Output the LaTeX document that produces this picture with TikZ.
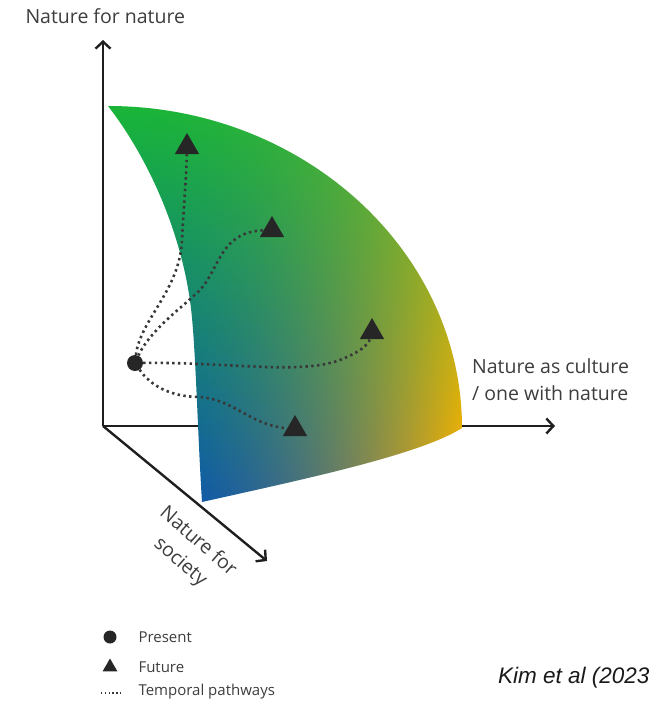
\documentclass[tikz,border=0pt]{standalone}
\usepackage{fontspec}
\setmainfont{Open Sans}
\newfontfamily\citefont{Liberation Sans}
\usepackage{tikz}
\usetikzlibrary{positioning,arrows.meta,shapes.geometric}
\definecolor{axc}{rgb}{0.12,0.12,0.12}
\definecolor{txtc}{rgb}{0.24,0.24,0.24}
\definecolor{dotc}{rgb}{0.22,0.22,0.22}
% green (top) / blue (bottom left) / orange (bottom right)
\pgfdeclarefunctionalshading{surface}{\pgfpointorigin}{\pgfpoint{100bp}{100bp}}{}{%
  25 sub 50 div exch 25 sub 50 div exch
  exch dup mul exch
  2 copy mul
  2 index 1.0 mul 2 index 0.10 mul add 1 index -0.60 mul add 0.0 add
  3 index 0.35 mul 3 index 0.38 mul add 2 index -0.34 mul add 0.33 add
  4 index -0.70 mul 4 index -0.48 mul add 3 index 0.63 mul add 0.70 add
  6 3 roll pop pop pop
}
\tikzset{
  axisline/.style={axc, line width=2.4pt, -{Straight Barb[length=7pt,width=15pt]}},
  pathway/.style={dotc, line width=2.6pt, dash pattern=on 2.4pt off 3.4pt},
  future/.style={regular polygon, regular polygon sides=3, fill=black!85, inner sep=0pt, minimum size=28pt},
  present/.style={circle, fill=black!85, inner sep=0pt, minimum size=16pt},
  lbl/.style={txtc, font=\fontsize{19.5}{27}\selectfont},
  legtext/.style={txtc, font=\fontsize{15}{18}\selectfont, anchor=west}
}

\begin{document}
\begin{tikzpicture}[x=1pt, y=-1pt]
    \useasboundingbox (0,0) rectangle (650,702);
    % axes
    \coordinate (orig) at (103,426);
    \coordinate (ytip) at (103,40);
    \coordinate (xtip) at (555,426);
    \coordinate (ztip) at (267,561);
    \draw[axisline] (orig) -- (ytip);
    \draw[axisline] (orig) -- (xtip);
    \draw[axisline] (orig) -- (ztip);
    \node[lbl, anchor=base west] (ylab) at (22,23) {Nature for nature};
    \node[lbl, anchor=north west, align=left, inner sep=0pt] (xlab) at (472,358) {Nature as culture\\/ one with nature};
    \node[lbl, rotate=-41, align=center] (zlab) at (189,552) {Nature for\\society};
    % surface
    \shade[shading=surface] (108,106) .. controls (303,106) and (462,251) .. (462,428)
        .. controls (420,455) and (300,480) .. (202,502)
        .. controls (198,440) and (196,360) .. (192,318)
        .. controls (185,240) and (150,160) .. (108,106) -- cycle;
    % present and futures
    \node[present] (pres) at (135,363) {};
    \node[future] (fut1) at (187,147) {};
    \node[future] (fut2) at (272,230) {};
    \node[future] (fut3) at (372,332) {};
    \node[future] (fut4) at (295,429) {};
    \draw[pathway] (pres) .. controls (140,320) and (180,290) .. (182,240) .. controls (184,200) and (186,185) .. (fut1);
    \draw[pathway] (pres) .. controls (150,330) and (185,305) .. (200,290) .. controls (220,268) and (220,232) .. (fut2);
    \draw[pathway] (pres) .. controls (230,362) and (300,375) .. (340,360) .. controls (360,352) and (368,345) .. (fut3);
    \draw[pathway] (pres) .. controls (150,385) and (170,397) .. (200,397) .. controls (235,400) and (250,425) .. (fut4);
    % legend
    \node[present, minimum size=13pt] (legpres) at (110,637) {};
    \node[future, minimum size=17pt] (legfut) at (110,667) {};
    \coordinate (legpa) at (101,693);
    \coordinate (legpb) at (121,693);
    \draw[dotc, line width=1.4pt, dash pattern=on 1.4pt off 2.4pt] (legpa) -- (legpb);
    \node[legtext] (ltpres) at (135,637) {Present};
    \node[legtext] (ltfut) at (135,667) {Future};
    \node[legtext] (ltpath) at (135,692) {Temporal pathways};
    \node[anchor=base west, inner sep=0pt, black!90, font=\citefont\itshape\fontsize{22.5}{26}\selectfont] (cite) at (498,683) {Kim et al (2023};
\end{tikzpicture}
\end{document}
